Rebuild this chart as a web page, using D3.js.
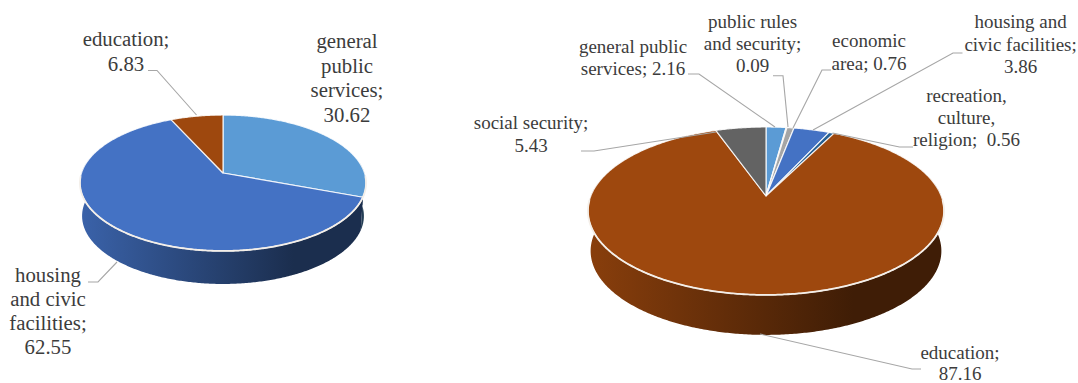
<!DOCTYPE html>
<html>
<head>
<meta charset="utf-8">
<script src="https://cdn.jsdelivr.net/npm/d3@7"></script>
<style>
  html, body { margin: 0; padding: 0; background: #fff; }
  svg { display: block; }
</style>
</head>
<body>
<svg id="chart" width="1078" height="383"></svg>
<script>
// Spending shares, left pie
const leftCategories = ["general public services", "housing and civic facilities", "education"];
const leftValues = [30.62, 62.55, 6.83];
const leftColors = ["#5B9BD5", "#4472C4", "#9E480E"];
const leftLabels = [
  ["general", "public", "services;", "30.62"],
  ["housing", "and civic", "facilities;", "62.55"],
  ["education;", "6.83"]
];
const leftAnchors = [[347, 48, 24.5], [48, 282, 24], [126, 46, 25]];
const leftLeaders = [
  null,
  [[88, 282], [98, 282], [117, 262]],
  [[148, 70.5], [157, 70.5], [196.5, 115]]
];

// Spending shares, right pie
const rightCategories = ["general public services", "public rules and security", "economic area",
  "housing and civic facilities", "recreation, culture, religion", "education", "social security"];
const rightValues = [2.16, 0.09, 0.76, 3.86, 0.56, 87.16, 5.43];
const rightColors = ["#5B9BD5", "#ED7D31", "#A5A5A5", "#4472C4", "#255E91", "#9E480E", "#636363"];
const rightLabels = [
  ["general public", "services; 2.16"],
  ["public rules", "and security;", "0.09"],
  ["economic", "area; 0.76"],
  ["housing and", "civic facilities;", "3.86"],
  ["recreation,", "culture,", "religion;  0.56"],
  ["education;", "87.16"],
  ["social security;", "5.43"]
];
const rightAnchors = [[633, 53, 22], [752.6, 28, 22], [869, 47, 23], [1020.6, 28, 22.5],
  [966.5, 102, 22], [960, 359, 21], [531, 129, 23]];
const rightLeaders = [
  [[688, 74], [699, 74], [775, 127]],
  [[773, 75.7], [783, 75.7], [788, 127]],
  [[831, 70], [822, 70], [793, 128]],
  [[962.5, 53], [953, 53], [813, 130]],
  [[913, 147], [899.5, 147], [832.5, 133]],
  [[921, 369], [912, 369], [760, 334]],
  [[581, 151], [594, 151], [716, 132]]
];

const svg = d3.select("#chart");
const defs = svg.append("defs");
const lineGen = d3.line();

// Perspective mapping of a unit disc onto the page: near edge grows, far edge shrinks.
function projector(geo) {
  return (angle, scaleX = 1, dy = 0) => {
    const u = Math.sin(angle), v = -Math.cos(angle), w = 1 - geo.k * v;
    return [geo.cx + geo.a * scaleX * u / w, geo.cy + geo.b * v / w + dy];
  };
}

function sampleAngles(a0, a1) {
  const n = Math.max(2, Math.ceil(Math.abs(a1 - a0) / 0.01));
  return d3.range(n + 1).map(i => a0 + (a1 - a0) * i / n);
}

// Multiply a colour's channels to get a shaded tone for the rim.
function shade(c, f) {
  const r = d3.rgb(c);
  return d3.rgb(r.r * f, r.g * f, r.b * f).formatHex();
}

function drawPie(id, values, colors, labels, anchors, leaders, geo) {
  const g = svg.append("g").attr("class", id);
  const project = projector(geo);
  const arcs = d3.pie().sort(null)(values);

  // Rim shading runs from a mid tone on the left to a deep tone on the right.
  colors.forEach((c, i) => {
    const grad = defs.append("linearGradient")
      .attr("id", `${id}-rim-${i}`)
      .attr("gradientUnits", "userSpaceOnUse")
      .attr("x1", geo.cx - geo.a).attr("x2", geo.cx + geo.a)
      .attr("y1", 0).attr("y2", 0);
    grad.append("stop").attr("offset", 0).attr("stop-color", shade(c, 0.86));
    grad.append("stop").attr("offset", 0.75).attr("stop-color", shade(c, 0.4));
    grad.append("stop").attr("offset", 1).attr("stop-color", shade(c, 0.4));
  });

  // Front-facing wall of the disc, slice by slice.
  const wallFrom = Math.PI * 0.5 - 0.15, wallTo = Math.PI * 1.5 + 0.15;
  arcs.forEach((d, i) => {
    const a0 = Math.max(d.startAngle, wallFrom), a1 = Math.min(d.endAngle, wallTo);
    if (a1 <= a0) return;
    const angles = sampleAngles(a0, a1);
    const top = angles.map(t => project(t));
    const bottom = angles.slice().reverse().map(t => project(t, geo.taper, geo.depth));
    g.append("path")
      .attr("d", lineGen(top.concat(bottom)) + "Z")
      .attr("fill", `url(#${id}-rim-${i})`);
  });

  // Upper faces of the slices.
  arcs.forEach((d, i) => {
    const outer = sampleAngles(d.startAngle, d.endAngle).map(t => project(t));
    g.append("path")
      .attr("d", lineGen([[geo.cx, geo.cy]].concat(outer)) + "Z")
      .attr("fill", colors[i])
      .attr("stroke", "#fff")
      .attr("stroke-opacity", 0.85)
      .attr("stroke-width", 1.2)
      .attr("stroke-linejoin", "round");
  });

  // Bright seam along the front edge where the top meets the wall.
  const seam = sampleAngles(wallFrom + 0.2, wallTo - 0.2).map(t => project(t));
  g.append("path")
    .attr("d", lineGen(seam))
    .attr("fill", "none")
    .attr("stroke", "#f4efe9")
    .attr("stroke-width", 1.8);

  // Leader lines from the labels to their slices.
  leaders.forEach(pts => {
    if (!pts) return;
    g.append("path")
      .attr("d", lineGen(pts))
      .attr("fill", "none")
      .attr("stroke", "#a6a6a6")
      .attr("stroke-width", 1.1);
  });

  // Multi-line labels.
  labels.forEach((lines, i) => {
    const [x, y, step] = anchors[i];
    lines.forEach((line, j) => {
      g.append("text")
        .attr("x", x)
        .attr("y", y + j * step)
        .attr("text-anchor", "middle")
        .attr("font-family", "'Liberation Serif', 'Times New Roman', Times, serif")
        .attr("font-size", geo.fontSize)
        .attr("fill", "#3c3c3c")
        .style("white-space", "pre")
        .text(line);
    });
  });
}

drawPie("left", leftValues, leftColors, leftLabels, leftAnchors, leftLeaders,
  { cx: 223, cy: 173, a: 141.5, b: 66.5, k: 0.147, depth: 33, taper: 0.985, fontSize: 20.8 });
drawPie("right", rightValues, rightColors, rightLabels, rightAnchors, rightLeaders,
  { cx: 766, cy: 196, a: 175.2, b: 81.3, k: 0.178, depth: 40, taper: 0.985, fontSize: 19 });
</script>
</body>
</html>
